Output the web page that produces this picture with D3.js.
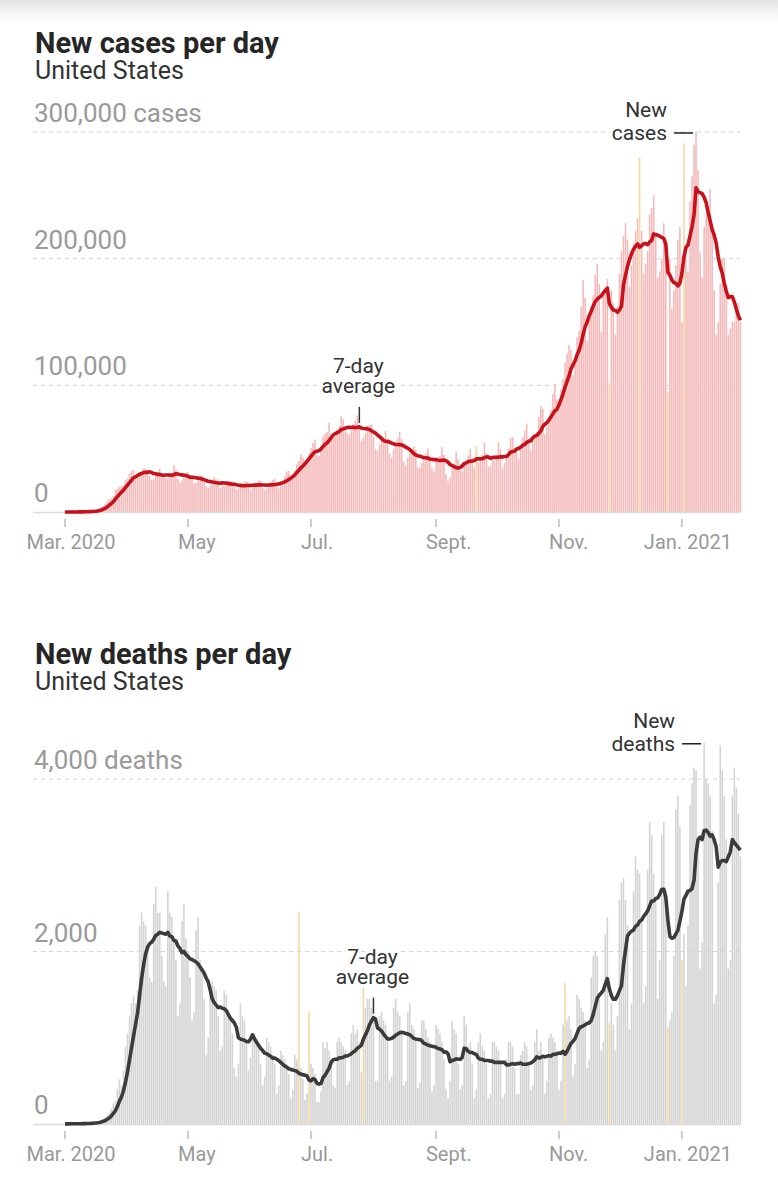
<!DOCTYPE html>
<html>
<head>
<meta charset="utf-8">
<script src="https://cdn.jsdelivr.net/npm/d3@7"></script>
<style>
  html, body { margin: 0; padding: 0; background: #fff; }
  svg { display: block; font-family: Roboto, "Liberation Sans", sans-serif; }
</style>
</head>
<body>
<div id="chart"></div>
<script>
// daily values starting Sunday 1 March 2020, one row per week (Sun..Sat)
var startDay = "2020-03-01";

// new cases per day, in thousands
var newCasesK = [
  0.01, 0.02, 0.03, 0.05, 0.06, 0.09, 0.1,
  0.12, 0.2, 0.28, 0.35, 0.42, 0.55, 0.6,
  0.8, 1.2, 1.6, 2.5, 3.9, 4.7, 6.4,
  8.5, 10.2, 10.5, 12.8, 17.6, 18.4, 20.0,
  20.4, 21.1, 25.2, 26.5, 30.4, 32.4, 33.1,
  25.6, 29.3, 31.4, 31.2, 34.6, 34.0, 33.1,
  28.3, 25.4, 26.0, 29.7, 31.2, 34.1, 28.9,
  27.5, 26.8, 25.9, 29.6, 30.6, 37.1, 33.8,
  26.3, 23.0, 24.8, 27.4, 29.8, 31.5, 29.5,
  25.5, 22.6, 23.1, 24.5, 28.9, 28.3, 26.0,
  20.3, 19.0, 21.2, 21.8, 27.4, 25.7, 24.8,
  18.9, 21.6, 20.3, 21.0, 24.4, 24.6, 22.3,
  19.6, 17.9, 18.5, 19.7, 22.8, 23.9, 24.1,
  20.4, 17.2, 19.9, 20.2, 23.0, 25.0, 24.6,
  18.9, 17.5, 18.7, 21.2, 23.8, 25.4, 26.1,
  20.8, 18.4, 22.9, 24.6, 28.2, 32.0, 32.4,
  28.6, 27.1, 32.6, 37.8, 40.1, 45.3, 43.0,
  40.3, 41.2, 46.4, 50.8, 54.6, 57.2, 45.3,
  44.1, 50.7, 59.8, 61.9, 63.1, 70.6, 60.4,
  58.4, 59.2, 64.9, 67.6, 75.6, 73.1, 64.2,
  62.3, 60.7, 63.8, 69.4, 71.8, 76.3, 66.2,
  55.8, 58.6, 62.1, 68.4, 68.9, 69.2, 59.3,
  49.5, 48.3, 53.2, 58.1, 57.9, 64.0, 58.6,
  46.2, 42.8, 49.5, 53.7, 58.2, 63.1, 57.6,
  40.1, 36.4, 43.2, 46.5, 48.0, 51.7, 49.2,
  35.4, 34.6, 38.9, 43.3, 46.2, 50.1, 44.0,
  34.8, 31.9, 40.3, 39.2, 44.6, 51.4, 45.1,
  30.2, 24.1, 26.8, 34.5, 38.1, 47.2, 41.8,
  33.9, 32.1, 39.2, 39.5, 44.6, 49.8, 43.1,
  35.4, 52.0, 39.1, 39.8, 45.2, 54.9, 46.3,
  35.8, 36.1, 43.4, 40.2, 45.3, 55.1, 49.5,
  34.9, 38.7, 43.9, 50.1, 58.3, 59.2, 50.6,
  47.0, 41.8, 52.1, 59.0, 64.3, 69.8, 57.5,
  48.3, 59.1, 61.0, 63.2, 75.5, 83.7, 81.4,
  61.2, 67.4, 74.8, 80.6, 93.0, 101.2, 89.0,
  86, 97, 105, 118, 125, 132, 128,
  108, 120, 138, 143, 162, 183, 169,
  135, 155, 163, 171, 187, 196, 180,
  142, 172, 176, 184, 102, 175, 165,
  140, 162, 188, 206, 218, 228, 215,
  178, 195, 212, 222, 232, 280, 222,
  188, 196, 206, 235, 240, 250, 218,
  185, 190, 200, 228, 210, 95, 200,
  160, 175, 195, 215, 225, 150, 291,
  210, 190, 245, 265, 290, 300, 270,
  205, 185, 225, 235, 235, 255, 220,
  175, 140, 150, 180, 200, 200, 175,
  140, 145, 150, 150, 160, 165, 150
];

// new deaths per day
var newDeaths = [
  1, 1, 4, 3, 2, 3, 4,
  4, 5, 7, 6, 8, 10, 11,
  12, 22, 25, 35, 52, 60, 80,
  110, 135, 180, 240, 270, 400, 520,
  450, 620, 900, 1050, 1250, 1400, 1480,
  1400, 1550, 2300, 2450, 2350, 2300, 2000,
  1700, 1650, 2550, 2750, 2450, 2450, 1950,
  1650, 1600, 2700, 2450, 2400, 2150, 1900,
  1250, 1400, 2350, 2550, 2150, 2000, 1700,
  1200, 1300, 2250, 2400, 1900, 1750, 1450,
  800, 1000, 1600, 1650, 1600, 1550, 1250,
  850, 900, 1550, 1500, 1300, 1250, 1050,
  650, 550, 700, 1400, 1250, 1200, 950,
  620, 770, 1050, 1050, 1000, 950, 700,
  450, 550, 1000, 950, 900, 800, 700,
  350, 450, 850, 800, 750, 700, 580,
  300, 400, 800, 750, 2460, 650, 520,
  280, 350, 1300, 700, 650, 580, 260,
  250, 380, 950, 880, 950, 850, 750,
  450, 420, 950, 1000, 950, 900, 850,
  450, 500, 1050, 1150, 1050, 1100, 950,
  600, 1580, 1350, 1450, 1450, 1350, 1200,
  500, 500, 1250, 1300, 1200, 1150, 1000,
  500, 550, 1350, 1450, 1300, 1250, 1050,
  450, 500, 1300, 1400, 1150, 1100, 1000,
  420, 480, 1200, 1200, 1100, 1000, 950,
  380, 450, 1150, 1100, 1050, 950, 750,
  400, 300, 500, 1200, 1100, 1050, 700,
  400, 450, 1250, 1150, 900, 950, 700,
  300, 400, 950, 1050, 900, 850, 700,
  300, 350, 950, 950, 900, 850, 700,
  300, 350, 750, 950, 950, 900, 650,
  350, 350, 800, 850, 950, 900, 700,
  400, 450, 950, 1100, 850, 950, 800,
  350, 500, 1000, 1050, 1000, 950, 850,
  400, 500, 1150, 1635, 1200, 1250, 1100,
  550, 700, 1500, 1450, 1350, 1300, 1200,
  650, 750, 1700, 1950, 2000, 1950, 1450,
  850, 950, 2200, 2400, 1170, 1400, 1150,
  850, 1250, 2600, 2800, 2850, 2600, 2300,
  1100, 1400, 2700, 3100, 2950, 2900, 2400,
  1400, 1600, 2950, 3500, 3350, 2900, 2600,
  1450, 1900, 3350, 3500, 2700, 1125, 1200,
  1300, 1950, 3650, 3800, 3450, 1900, 2200,
  1600, 2300, 3700, 3950, 4130, 4100, 3300,
  1800, 2100, 4420, 4000, 3950, 3800, 3400,
  1400, 1500, 2800, 4390, 4100, 3800, 3300,
  1800, 1900, 3800, 4130, 3900, 3600, 3100
];

// days shown in yellow (reporting irregularities), and those left out of the average
var casesFlagged = ["2020-09-21", "2020-11-26", "2020-12-11", "2020-12-25", "2021-01-02"];
var casesExcluded = ["2020-09-21", "2020-12-11"];
var deathsFlagged = ["2020-06-25", "2020-06-30", "2020-07-27", "2020-11-04", "2020-11-26", "2020-12-25", "2021-01-01"];
var deathsExcluded = ["2020-06-25", "2020-06-30", "2020-07-27", "2020-11-04"];

var monthTicks = ["2020-03-01", "2020-05-01", "2020-07-01", "2020-09-01", "2020-11-01", "2021-01-01"];
var monthLabels = ["Mar. 2020", "May", "Jul.", "Sept.", "Nov.", "Jan. 2021"];

var casesTicks = [0, 100, 200, 300];
var casesTickLabels = ["0", "100,000", "200,000", "300,000 cases"];
var deathsTicks = [0, 2000, 4000];
var deathsTickLabels = ["0", "2,000", "4,000 deaths"];

var width = 778, height = 1200;
var parseDay = d3.utcParse("%Y-%m-%d");
var fmtDay = d3.utcFormat("%Y-%m-%d");
var day0 = parseDay(startDay);

var svg = d3.select("#chart").append("svg")
  .attr("width", width)
  .attr("height", height);

// faint shadow at the very top of the screenshot
var grad = svg.append("defs").append("linearGradient")
  .attr("id", "topShade").attr("x1", 0).attr("x2", 0).attr("y1", 0).attr("y2", 1);
grad.append("stop").attr("offset", "0%").attr("stop-color", "#e4e4e4");
grad.append("stop").attr("offset", "100%").attr("stop-color", "#ffffff");
svg.append("rect").attr("x", 0).attr("y", 0).attr("width", width).attr("height", 22)
  .attr("fill", "url(#topShade)");

var nDays = newCasesK.length;
var x = d3.scaleUtc()
  .domain([day0, d3.utcDay.offset(day0, nDays - 1)])
  .range([65, 740.4]);

function rolling(values, excluded) {
  var skip = new Set(excluded);
  return values.map(function (v, i) {
    var w = [];
    for (var j = Math.max(0, i - 6); j <= i; j++) {
      if (!skip.has(fmtDay(d3.utcDay.offset(day0, j)))) w.push(values[j]);
    }
    return d3.mean(w);
  });
}

// two-line label as one text element
function label(g, px, py, anchor, lines, gap) {
  var t = g.append("text")
    .attr("x", px).attr("y", py)
    .attr("text-anchor", anchor)
    .style("font-size", "21px").style("fill", "#333")
    .style("stroke", "#fff").style("stroke-width", "5px")
    .style("paint-order", "stroke");
  lines.forEach(function (s, i) {
    t.append("tspan").attr("x", px).attr("dy", i ? gap : 0).text(s);
  });
}

function panel(p) {
  var g = svg.append("g");
  var y = d3.scaleLinear().domain(p.domain).range([p.base, p.top]);
  var flagged = new Set(p.flagged);
  var data = p.values.map(function (v, i) {
    var d = d3.utcDay.offset(day0, i);
    return { date: d, value: v, flag: flagged.has(fmtDay(d)) };
  });
  var avg = rolling(p.values, p.excluded);

  var head = g.append("text").attr("x", 35).attr("y", p.titleY);
  head.append("tspan")
    .style("font-size", "29px").style("font-weight", "bold").style("fill", "#262626")
    .text(p.title);
  head.append("tspan")
    .attr("x", 35).attr("dy", 26)
    .style("font-size", "25px").style("fill", "#333")
    .text("United States");

  // bars
  g.append("g").selectAll("rect")
    .data(data)
    .enter().append("rect")
    .attr("x", function (d) { return x(d.date) - 0.8; })
    .attr("y", function (d) { return y(d.value); })
    .attr("width", 1.6)
    .attr("height", function (d) { return p.base - y(d.value); })
    .attr("fill", function (d) { return d.flag ? "#f6d9a2" : p.barColor; });

  // gridlines and value labels
  p.ticks.forEach(function (t, i) {
    if (t > 0) {
      g.append("line")
        .attr("x1", 33).attr("x2", 740)
        .attr("y1", y(t)).attr("y2", y(t))
        .style("stroke", "#d2d2d2").style("stroke-width", "1px")
        .style("stroke-dasharray", "4,4");
    }
    g.append("text")
      .attr("x", 34).attr("y", y(t) - 10)
      .style("font-size", "26px").style("fill", "#9a9a9a")
      .text(p.tickLabels[i]);
  });
  g.append("line")
    .attr("x1", 33).attr("x2", 740)
    .attr("y1", p.base + 0.5).attr("y2", p.base + 0.5)
    .style("stroke", "#dcdcdc").style("stroke-width", "1.5px");

  // month ticks
  monthTicks.forEach(function (m, i) {
    var tx = x(parseDay(m));
    g.append("line")
      .attr("x1", tx).attr("x2", tx)
      .attr("y1", p.base + 7).attr("y2", p.base + 15)
      .style("stroke", "#999").style("stroke-width", "1px");
    var withYear = monthLabels[i].indexOf("20") >= 0;
    g.append("text")
      .attr("x", withYear ? tx + 6 : tx - 10)
      .attr("y", p.base + 37)
      .attr("text-anchor", withYear ? "middle" : "start")
      .style("font-size", "20px").style("fill", "#999")
      .text(monthLabels[i]);
  });

  // 7-day average line
  var line = d3.line()
    .x(function (d, i) { return x(data[i].date); })
    .y(function (d) { return y(d); });
  g.append("path")
    .datum(avg)
    .attr("d", line)
    .style("fill", "none")
    .style("stroke", p.lineColor)
    .style("stroke-width", "3.6px")
    .style("stroke-linejoin", "round");

  // "7-day average" label
  var ai = d3.utcDay.count(day0, parseDay(p.avgLabelDay));
  var ax = x(data[ai].date), ay = y(avg[ai]);
  g.append("line")
    .attr("x1", ax).attr("x2", ax)
    .attr("y1", ay - 4).attr("y2", ay - 20)
    .style("stroke", "#333").style("stroke-width", "1.5px");
  label(g, ax - 1, ay - 54, "middle", ["7-day", "average"], 20);

  // "New cases —" label at the tallest bar
  var mi = d3.maxIndex(p.values);
  var mx = x(data[mi].date), my = y(p.values[mi]) + 1;
  g.append("line")
    .attr("x1", mx - 22).attr("x2", mx - 3)
    .attr("y1", my).attr("y2", my)
    .style("stroke", "#222").style("stroke-width", "1.5px");
  label(g, mx - 29, my - 16, "end", ["New", p.newLabel], 23);
}

panel({
  title: "New cases per day",
  titleY: 53,
  values: newCasesK,
  flagged: casesFlagged,
  excluded: casesExcluded,
  domain: [0, 300], base: 512, top: 132,
  ticks: casesTicks, tickLabels: casesTickLabels,
  barColor: "#f4baba", lineColor: "#c8111a",
  avgLabelDay: "2020-07-25",
  newLabel: "cases"
});

panel({
  title: "New deaths per day",
  titleY: 664,
  values: newDeaths,
  flagged: deathsFlagged,
  excluded: deathsExcluded,
  domain: [0, 4000], base: 1124, top: 779,
  ticks: deathsTicks, tickLabels: deathsTickLabels,
  barColor: "#d4d4d4", lineColor: "#3b3b3b",
  avgLabelDay: "2020-08-01",
  newLabel: "deaths"
});
</script>
</body>
</html>
